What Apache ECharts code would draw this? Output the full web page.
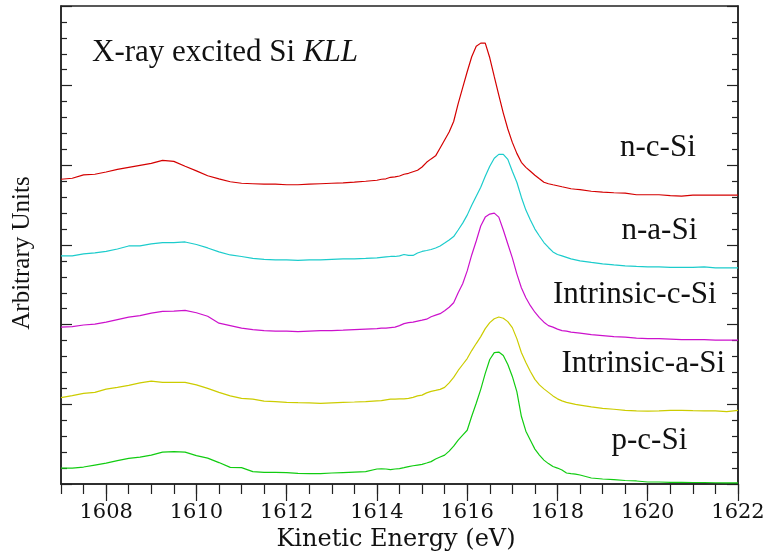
<!DOCTYPE html>
<html><head><meta charset="utf-8">
<script src="https://cdn.jsdelivr.net/npm/echarts@6/dist/echarts.min.js"></script>
<style>html,body{margin:0;padding:0;background:#fff}#c{width:773px;height:557px}</style>
</head><body><div id="c"></div>
<script>
// Kinetic energy grid (eV)
const energy = [1607,1607.25,1607.5,1607.75,1608,1608.25,1608.5,1608.75,1609,1609.25,1609.5,1609.75,1610,1610.25,1610.5,1610.75,1611,1611.25,1611.5,1611.75,1612,1612.25,1612.5,1612.75,1613,1613.25,1613.5,1613.75,1614,
1614.1,1614.2,1614.3,1614.4,1614.5,1614.6,1614.7,1614.8,1614.9,1615,1615.1,1615.2,1615.3,1615.4,1615.5,1615.6,1615.7,1615.8,1615.9,1616,1616.1,1616.2,1616.3,1616.4,1616.5,1616.6,1616.7,1616.8,1616.9,1617,1617.1,1617.2,1617.3,1617.4,1617.5,1617.6,1617.7,1617.8,1617.9,1618,1618.1,1618.2,1618.3,1618.4,1618.5,
1618.75,1619,1619.25,1619.5,1619.75,1620,1620.25,1620.5,1620.75,1621,1621.25,1621.5,1621.75,1622];

const nCSi = [3.825,3.838,3.881,3.888,3.916,3.95,3.975,4.0,4.025,4.063,4.05,3.988,3.931,3.869,3.831,3.794,3.775,3.769,3.763,3.763,3.756,3.756,3.763,3.769,3.775,3.781,3.788,3.8,3.813,
3.825,3.831,3.85,3.856,3.866,3.888,3.9,3.919,3.938,3.979,4.038,4.081,4.119,4.218,4.318,4.418,4.55,4.775,4.975,5.175,5.363,5.494,5.534,5.534,5.35,5.113,4.881,4.656,4.456,4.288,4.15,4.038,3.975,3.925,3.875,3.831,3.788,3.769,3.756,3.744,3.731,3.719,3.706,3.7,3.694,
3.675,3.663,3.656,3.65,3.631,3.631,3.631,3.619,3.613,3.625,3.625,3.625,3.625,3.625];

const nASi = [2.863,2.863,2.888,2.9,2.919,2.95,2.988,2.988,3.013,3.029,3.031,3.038,3.006,2.963,2.913,2.875,2.856,2.831,2.819,2.813,2.813,2.806,2.813,2.813,2.819,2.825,2.825,2.831,2.838,
2.844,2.85,2.856,2.856,2.863,2.881,2.869,2.869,2.9,2.919,2.931,2.944,2.963,2.988,3.025,3.063,3.106,3.188,3.275,3.375,3.5,3.613,3.725,3.863,3.988,4.088,4.138,4.138,4.075,3.925,3.788,3.6,3.438,3.313,3.2,3.113,3.031,2.969,2.913,2.881,2.863,2.844,2.825,2.813,2.8,
2.781,2.763,2.75,2.738,2.731,2.725,2.725,2.719,2.719,2.719,2.725,2.713,2.713,2.713];

const intrinsicCSi = [1.969,1.975,1.996,2.006,2.031,2.063,2.094,2.113,2.144,2.166,2.169,2.179,2.15,2.106,2.019,1.988,1.956,1.938,1.925,1.919,1.919,1.913,1.919,1.925,1.925,1.931,1.938,1.944,1.95,
1.956,1.956,1.963,1.969,1.988,2.013,2.025,2.031,2.044,2.056,2.069,2.1,2.119,2.138,2.175,2.219,2.275,2.4,2.513,2.675,2.875,3.05,3.238,3.35,3.388,3.4,3.35,3.188,3.013,2.838,2.638,2.463,2.338,2.238,2.156,2.088,2.031,1.988,1.969,1.944,1.925,1.919,1.906,1.9,1.894,
1.875,1.863,1.85,1.844,1.831,1.825,1.825,1.819,1.813,1.813,1.813,1.806,1.806,1.806];

const intrinsicASi = [1.084,1.109,1.138,1.15,1.191,1.213,1.238,1.269,1.291,1.275,1.275,1.275,1.244,1.2,1.15,1.106,1.075,1.066,1.041,1.034,1.025,1.021,1.019,1.013,1.019,1.025,1.029,1.034,1.044,
1.046,1.056,1.065,1.066,1.069,1.069,1.075,1.088,1.106,1.116,1.144,1.163,1.175,1.188,1.213,1.269,1.338,1.425,1.5,1.575,1.675,1.763,1.85,1.95,2.025,2.075,2.096,2.081,2.038,1.963,1.825,1.65,1.525,1.413,1.313,1.244,1.194,1.15,1.106,1.069,1.044,1.025,1.013,1.0,0.991,
0.969,0.95,0.938,0.925,0.919,0.916,0.919,0.923,0.925,0.921,0.919,0.919,0.909,0.925];

const pCSi = [0.2,0.2,0.213,0.238,0.263,0.294,0.321,0.338,0.363,0.4,0.406,0.4,0.356,0.325,0.269,0.209,0.206,0.156,0.146,0.146,0.144,0.134,0.131,0.129,0.138,0.144,0.15,0.156,0.188,
0.191,0.188,0.181,0.188,0.194,0.206,0.219,0.229,0.238,0.246,0.263,0.281,0.313,0.338,0.363,0.413,0.475,0.55,0.613,0.675,0.85,1.013,1.188,1.388,1.563,1.65,1.656,1.613,1.5,1.35,1.159,0.85,0.663,0.55,0.438,0.363,0.3,0.256,0.219,0.2,0.175,0.138,0.131,0.125,0.113,
0.075,0.063,0.056,0.044,0.038,0.025,0.025,0.021,0.021,0.019,0.019,0.016,0.013,0.013];

const xLabelValues = [1608,1610,1612,1614,1616,1618,1620,1622];
const xMinorTickValues = [1607,1607.5,1608,1608.5,1609,1609.5,1610,1610.5,1611,1611.5,1612,1612.5,1613,1613.5,1614,1614.5,1615,1615.5,1616,1616.5,1617,1617.5,1618,1618.5,1619,1619.5,1620,1620.5,1621,1621.5,1622];
const seriesNames = ['n-c-Si','n-a-Si','Intrinsic-c-Si','Intrinsic-a-Si','p-c-Si'];
const seriesColors = ['#d40000','#1ccccc','#cc11cc','#cccc00','#11cc11'];
const seriesValues = [nCSi, nASi, intrinsicCSi, intrinsicASi, pCSi];
const titleText = 'X-ray excited Si ';
const titleItalic = 'KLL';

const chart = echarts.init(document.getElementById('c'), null, {renderer:'canvas'});
const axisColor = '#222';
const labelFont = 'DejaVu Serif';
const serif = 'Liberation Serif';

const yAxisCommon = {
  type:'value', min:0, max:6, interval:1,
  axisLine:{show:true, lineStyle:{color:axisColor, width:1.5}},
  axisTick:{show:true, inside:true, length:11, lineStyle:{color:axisColor, width:1.2}},
  minorTick:{show:true, splitNumber:5, length:6, lineStyle:{color:axisColor, width:1.2}},
  axisLabel:{show:false}, splitLine:{show:false}, minorSplitLine:{show:false}
};

const annot = [
  {t:seriesNames[0], x:620, y:147.5},
  {t:seriesNames[1], x:621.5, y:230.5},
  {t:seriesNames[2], x:553, y:294.5},
  {t:seriesNames[3], x:561.5, y:363.5},
  {t:seriesNames[4], x:611.5, y:440.5}
];

const option = {
  animation:false,
  backgroundColor:'#fff',
  grid:{left:61, right:35, top:6, bottom:71, show:true, borderColor:axisColor, borderWidth:1.5, backgroundColor:'transparent'},
  xAxis:[
    {type:'value', min:1607, max:1622, position:'bottom',
     axisLine:{show:true, lineStyle:{color:axisColor, width:1.5}},
     axisTick:{show:true, inside:false, length:17, customValues:xLabelValues, lineStyle:{color:axisColor, width:1.2}},
     axisLabel:{show:true, customValues:xLabelValues, margin:18, color:'#111', fontFamily:labelFont, fontSize:21,
       formatter: v => String(v)},
     splitLine:{show:false},
     name:'Kinetic Energy (eV)', nameLocation:'middle', nameGap:44,
     nameTextStyle:{fontFamily:labelFont, fontSize:24, color:'#111', padding:[0,7,0,0]}
    },
    {type:'value', min:1607, max:1622, position:'bottom',
     axisLine:{show:false},
     axisTick:{show:true, inside:false, length:10, customValues:xMinorTickValues, lineStyle:{color:axisColor, width:1.2}},
     axisLabel:{show:false}, splitLine:{show:false}
    }
  ],
  yAxis:[
    Object.assign({}, yAxisCommon, {position:'left', name:'Arbitrary Units', nameLocation:'middle', nameGap:26,
      nameTextStyle:{fontFamily:serif, fontSize:25, color:'#111', padding:[0,16,0,0]}}),
    Object.assign({}, yAxisCommon, {position:'right'})
  ],
  series: seriesValues.map((vals, k) => ({
    name: seriesNames[k], type:'line', xAxisIndex:0, yAxisIndex:0,
    showSymbol:false, symbol:'none', smooth:false,
    lineStyle:{color:seriesColors[k], width:1.2},
    itemStyle:{color:seriesColors[k]},
    data: energy.map((e,i) => [e, vals[i]])
  })),
  graphic:[
    {type:'text', x:92, y:52.5, silent:true,
     style:{text:'{a|'+titleText+'}{b|'+titleItalic+'}', align:'left', verticalAlign:'middle', textAlign:'left', textVerticalAlign:'middle',
       rich:{a:{fontFamily:serif, fontSize:31, fill:'#111', color:'#111'}, b:{fontFamily:serif, fontSize:31, fontStyle:'italic', fill:'#111', color:'#111'}}}}
  ].concat(annot.map(a => ({
    type:'text', x:a.x, y:a.y, silent:true,
    style:{text:a.t, font:'31px "Liberation Serif"', fill:'#111', align:'left', verticalAlign:'middle', textAlign:'left', textVerticalAlign:'middle'}
  })))
};
chart.setOption(option);
</script>
</body></html>
